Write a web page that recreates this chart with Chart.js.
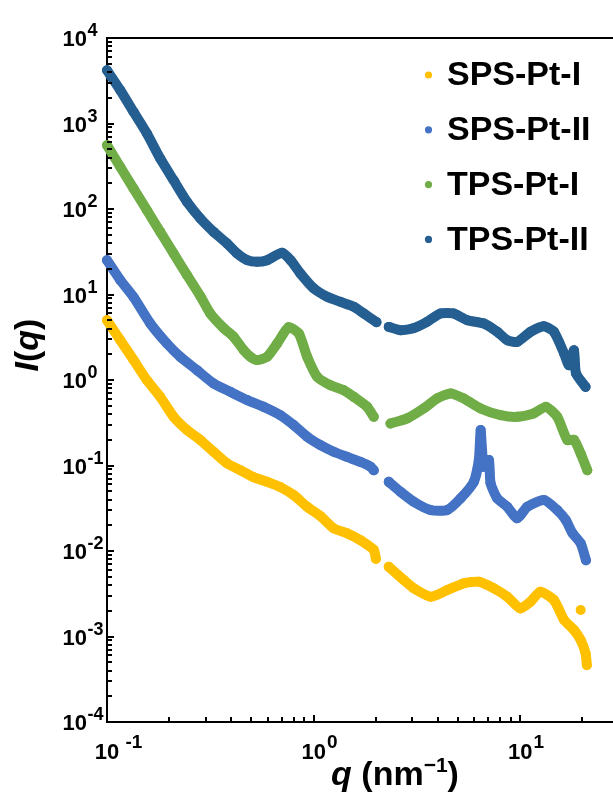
<!DOCTYPE html>
<html>
<head>
<meta charset="utf-8">
<script src="https://cdn.jsdelivr.net/npm/chart.js@4.4.0/dist/chart.umd.min.js"></script>
<style>
  html, body { margin: 0; padding: 0; background: #fff; }
  canvas { display: block; }
</style>
</head>
<body>
<canvas id="chart1" width="613" height="792"></canvas>
<script>
var seriesNames = ['SPS-Pt-I', 'SPS-Pt-II', 'TPS-Pt-I', 'TPS-Pt-II'];
var seriesColors = ['#FFC000', '#4472C4', '#70AD47', '#255E91'];

// q in nm^-1, intensity I(q); a null intensity breaks the trace
var qSPS1 = [0.1, 0.116, 0.1345, 0.156, 0.181, 0.21, 0.244, 0.283, 0.328, 0.381, 0.442, 0.511, 0.596, 0.69, 0.801, 0.93, 1.079, 1.25, 1.452, 1.685, 1.954, 2.0,
  2.15, 2.31, 2.73, 3.05, 3.68, 4.43, 5.33, 6.3, 7.45, 8.65, 10.0, 11.2, 12.5, 14.55, 16.3, 18.2, 19.6, 20.7, 21.0, 19.6, 19.6];
var iSPS1 = [5.0, 2.92, 1.71, 0.995, 0.635, 0.371, 0.26, 0.198, 0.145, 0.106, 0.088, 0.073, 0.0644, 0.0559, 0.045, 0.0329, 0.0256, 0.0184, 0.0161, 0.0134, 0.0103, 0.0081,
  null, 0.00655, 0.00457, 0.00366, 0.00292, 0.00349, 0.00419, 0.00437, 0.00366, 0.00292, 0.00213, 0.00255, 0.00334, 0.00267, 0.00156, 0.00119, 0.00091, 0.000635, 0.000464, null, 0.00204];

var qSPS2 = [0.1, 0.116, 0.1345, 0.162, 0.195, 0.226, 0.273, 0.328, 0.395, 0.477, 0.573, 0.69, 0.801, 0.93, 1.079, 1.25, 1.452, 1.685, 1.884, 1.954,
  2.15, 2.31, 2.63, 3.05, 3.68, 4.43, 5.14, 5.96, 6.3, 6.43, 6.53, 6.66, 7.05, 7.18, 7.74, 8.65, 9.67, 10.8, 13.0, 15.1, 16.6, 17.9, 19.6, 20.8];
var iSPS2 = [25.2, 14.7, 9.3, 4.58, 2.67, 1.87, 1.30, 0.91, 0.727, 0.582, 0.485, 0.388, 0.297, 0.217, 0.173, 0.145, 0.126, 0.110, 0.0966, 0.088,
  null, 0.0644, 0.0493, 0.0377, 0.0301, 0.0301, 0.0412, 0.0644, 0.1156, 0.26, 0.151, 0.0966, 0.1156, 0.0622, 0.0412, 0.0329, 0.0241, 0.0329, 0.0394, 0.0301, 0.023, 0.0161, 0.0123, 0.0078];

var qTPS1 = [0.1, 0.116, 0.1345, 0.156, 0.181, 0.21, 0.244, 0.283, 0.316, 0.367, 0.41, 0.459, 0.494, 0.532, 0.596, 0.666, 0.757, 0.848, 0.93, 1.04, 1.206, 1.40, 1.564, 1.816, 1.954,
  2.15, 2.355, 2.84, 3.41, 3.96, 4.6, 5.33, 6.42, 8.03, 9.67, 11.6, 13.3, 15.1, 16.9, 18.2, 19.6, 21.1];
var iTPS1 = [557, 310, 173, 96.8, 54, 30.2, 16.8, 9.55, 6.0, 4.04, 3.2, 2.23, 1.87, 1.71, 1.87, 2.67, 4.15, 3.5, 1.87, 1.09, 0.87, 0.76, 0.635, 0.485, 0.371,
  null, 0.31, 0.356, 0.465, 0.608, 0.697, 0.608, 0.465, 0.388, 0.371, 0.406, 0.485, 0.371, 0.198, 0.2, 0.138, 0.088];

var qTPS2 = [0.1, 0.116, 0.1345, 0.156, 0.181, 0.21, 0.244, 0.283, 0.328, 0.381, 0.426, 0.477, 0.532, 0.596, 0.704, 0.773, 0.863, 1.0, 1.162, 1.349, 1.564, 1.748, 2.014,
  2.15, 2.31, 2.63, 3.04, 3.54, 4.11, 4.75, 5.54, 6.66, 7.74, 8.65, 9.67, 11.2, 13.0, 14.55, 16.3, 17.2, 18.2, 18.6, 20.7];
var iTPS2 = [4190, 2447, 1365, 763, 389, 217, 121, 77.4, 54, 39.5, 30.2, 25.2, 24.1, 25.2, 30.7, 25.2, 17.6, 11.8, 9.4, 8.2, 7.2, 6.0, 4.75,
  null, 4.18, 3.83, 4.04, 4.79, 6.0, 6.0, 5.0, 4.58, 3.66, 2.92, 2.79, 3.66, 4.26, 3.66, 2.04, 1.49, 2.23, 1.2, 0.83];

var xTicks = [0.1, 1, 10];
var xTickExp = [' -1', '0', '1'];
var yTicks = [1e4, 1e3, 1e2, 1e1, 1, 1e-1, 1e-2, 1e-3, 1e-4];
var yTickExp = ['4', '3', '2', '1', '0', '-1', '-2', '-3', '-4'];

var FONT = "'Liberation Sans', Arial, sans-serif";

function toPoints(qs, vals) {
  return qs.map(function (q, i) { return { x: q, y: vals[i] }; });
}

function makeSet(idx, qs, vals) {
  return {
    label: seriesNames[idx],
    data: toPoints(qs, vals),
    borderColor: seriesColors[idx],
    backgroundColor: seriesColors[idx],
    showLine: true,
    borderWidth: 10,
    borderCapStyle: 'round',
    borderJoinStyle: 'round',
    pointRadius: 5,
    pointBorderWidth: 0,
    spanGaps: false,
    tension: 0.2,
    clip: false
  };
}

function drawPieces(ctx, pieces, x, y) {
  // pieces: [text, font, raise]; drawn centred on x
  var total = 0;
  pieces.forEach(function (p) { ctx.font = p[1]; total += ctx.measureText(p[0]).width; });
  var cx = x - total / 2;
  ctx.textAlign = 'left';
  ctx.textBaseline = 'alphabetic';
  pieces.forEach(function (p) {
    ctx.font = p[1];
    ctx.fillText(p[0], cx, y - (p[2] || 0));
    cx += ctx.measureText(p[0]).width;
  });
}

var decor = {
  id: 'decor',
  afterDraw: function (chart) {
    var ctx = chart.ctx;
    var area = chart.chartArea;
    var xs = chart.scales.x, ys = chart.scales.y;
    ctx.save();
    ctx.strokeStyle = '#000';
    ctx.fillStyle = '#000';
    ctx.lineWidth = 2;

    // top frame
    ctx.beginPath();
    ctx.moveTo(area.left - 1, area.top);
    ctx.lineTo(area.right, area.top);
    ctx.stroke();

    // inward ticks
    ctx.beginPath();
    for (var d = -4; d <= 4; d++) {
      for (var m = 1; m <= 9; m++) {
        var v = m * Math.pow(10, d);
        if (v > 1e4) break;
        var py = Math.round(ys.getPixelForValue(v));
        var len = m === 1 ? 7 : 5;
        ctx.moveTo(area.left, py);
        ctx.lineTo(area.left + len, py);
      }
    }
    for (var dx = -1; dx <= 1; dx++) {
      for (var mx = 1; mx <= 9; mx++) {
        var vx = mx * Math.pow(10, dx);
        if (vx > xs.max) break;
        var px = Math.round(xs.getPixelForValue(vx));
        var lx = mx === 1 ? 7 : 5;
        ctx.moveTo(px, area.bottom);
        ctx.lineTo(px, area.bottom - lx);
      }
    }
    ctx.stroke();

    // y tick labels
    yTicks.forEach(function (v, i) {
      var py = ys.getPixelForValue(v);
      ctx.textBaseline = 'alphabetic';
      ctx.font = 'bold 22px ' + FONT;
      ctx.textAlign = 'right';
      ctx.fillText('10', 87, py + 8);
      ctx.font = 'bold 18px ' + FONT;
      ctx.textAlign = 'left';
      ctx.fillText(yTickExp[i], 87.5, py - 2);
    });

    // x tick labels
    xTicks.forEach(function (v, i) {
      var px = xs.getPixelForValue(v);
      ctx.textBaseline = 'alphabetic';
      ctx.font = 'bold 22px ' + FONT;
      ctx.textAlign = 'center';
      ctx.fillText('10', px, 758.5);
      var w = ctx.measureText('10').width;
      ctx.font = 'bold 19px ' + FONT;
      ctx.textAlign = 'left';
      ctx.fillText(xTickExp[i], px + w / 2 + 1, 747.5);
    });

    // axis titles
    var big = 'bold 34px ' + FONT, bigIt = 'italic bold 34px ' + FONT;
    drawPieces(ctx, [['q', bigIt], [' (nm', big], ['\u22121', 'bold 21px ' + FONT, 13], [')', big]], 395, 785);
    ctx.save();
    ctx.translate(38, 345);
    ctx.rotate(-Math.PI / 2);
    drawPieces(ctx, [['I', bigIt], ['(', big], ['q', bigIt], [')', big]], 0, 0);
    ctx.restore();

    // legend
    chart.data.datasets.forEach(function (ds, i) {
      var ly = 75 + i * 54.8;
      ctx.fillStyle = ds.borderColor;
      ctx.beginPath();
      ctx.arc(428.5, ly, 3.6, 0, Math.PI * 2);
      ctx.fill();
      ctx.fillStyle = '#000';
      ctx.font = 'bold 34px ' + FONT;
      ctx.textAlign = 'left';
      ctx.textBaseline = 'middle';
      ctx.fillText(ds.label, 447, ly + 1);
    });
    ctx.restore();
  }
};

var ctx = document.getElementById('chart1').getContext('2d');
var chart = new Chart(ctx, {
  type: 'scatter',
  data: {
    datasets: [
      makeSet(0, qSPS1, iSPS1),
      makeSet(1, qSPS2, iSPS2),
      makeSet(2, qTPS1, iTPS1),
      makeSet(3, qTPS2, iTPS2)
    ]
  },
  options: {
    responsive: false,
    animation: false,
    devicePixelRatio: 1,
    layout: { autoPadding: false, padding: { top: 38, left: 0, right: 0, bottom: 0 } },
    plugins: { legend: { display: false }, tooltip: { enabled: false } },
    scales: {
      x: {
        type: 'logarithmic',
        min: 0.1,
        max: 28.1,
        grid: { display: false },
        border: { display: true, color: '#000', width: 2 },
        ticks: { display: false },
        afterFit: function (scale) { scale.height = 70; }
      },
      y: {
        type: 'logarithmic',
        min: 1e-4,
        max: 1e4,
        grid: { display: false },
        border: { display: true, color: '#000', width: 2 },
        ticks: { display: false },
        afterFit: function (scale) { scale.width = 107; }
      }
    }
  },
  plugins: [decor]
});
</script>
</body>
</html>
